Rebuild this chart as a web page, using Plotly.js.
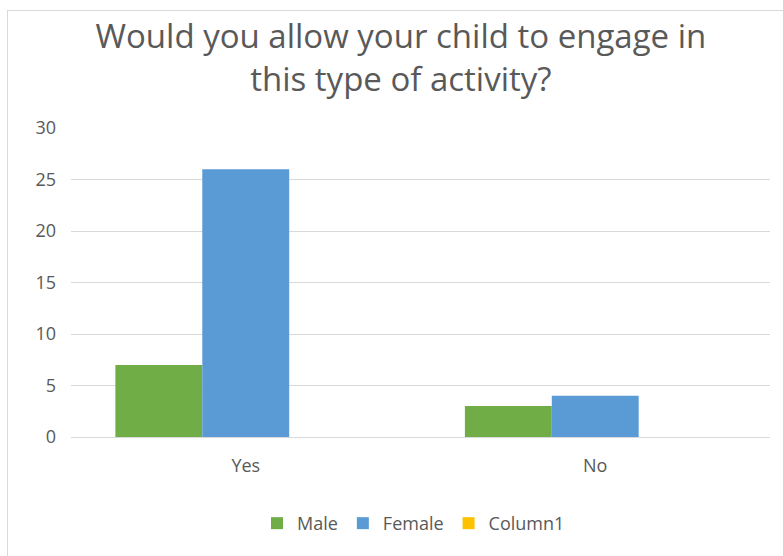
<!DOCTYPE html>
<html>
<head>
<meta charset="utf-8">
<script src="https://cdn.plot.ly/plotly-3.0.1.min.js"></script>
<style>
html,body{margin:0;padding:0;background:#fff;}
#chart{width:783px;height:556px;position:absolute;left:0;top:0;}
#frame{position:absolute;left:7px;top:10px;width:800px;height:600px;border:1px solid #d9d9d9;pointer-events:none;}
</style>
</head>
<body>
<div id="chart"></div>
<div id="frame"></div>
<script>
var categories = ["Yes", "No"];
var maleValues = [7, 3];
var femaleValues = [26, 4];
var column1Values = [0, 0];
var seriesNames = ["Male", "Female", "Column1"];
var seriesColors = ["#70AD47", "#5B9BD5", "#FFC000"];

var fontFam = "Open Sans, Liberation Sans, sans-serif";
var allValues = [maleValues, femaleValues, column1Values];
var data = allValues.map(function(v, i){
  return {
    type: "bar",
    x: categories,
    y: v,
    name: seriesNames[i],
    marker: {color: seriesColors[i]}
  };
});

var layout = {
  width: 783, height: 556,
  paper_bgcolor: "#ffffff", plot_bgcolor: "#ffffff",
  margin: {l: 71, r: 13, t: 128, b: 119},
  title: {
    text: "Would you allow your child to engage in<br>this type of activity?",
    font: {family: fontFam, size: 33, color: "#595959"},
    x: 0.512, xanchor: "center", y: 0.914, yanchor: "middle", yref: "container"
  },
  barmode: "group",
  bargap: 0.254,
  bargroupgap: 0,
  xaxis: {
    type: "category",
    showgrid: false,
    showline: true, linecolor: "#d9d9d9", linewidth: 1,
    ticks: "", tickfont: {family: fontFam, size: 18, color: "#595959"},
    ticklabelstandoff: 12,
    zeroline: false
  },
  yaxis: {
    range: [0, 30], dtick: 5,
    showgrid: true, gridcolor: "#d9d9d9", gridwidth: 1,
    zeroline: false, showline: false,
    ticks: "", tickfont: {family: fontFam, size: 18, color: "#595959"},
    ticklabelstandoff: 14
  },
  legend: {
    orientation: "h", x: 0.49, xanchor: "center", y: -0.22, yanchor: "top",
    font: {family: fontFam, size: 18, color: "#595959"},
    traceorder: "normal"
  },
  showlegend: true
};

Plotly.newPlot("chart", data, layout, {displayModeBar: false, staticPlot: true});
</script>
</body>
</html>
